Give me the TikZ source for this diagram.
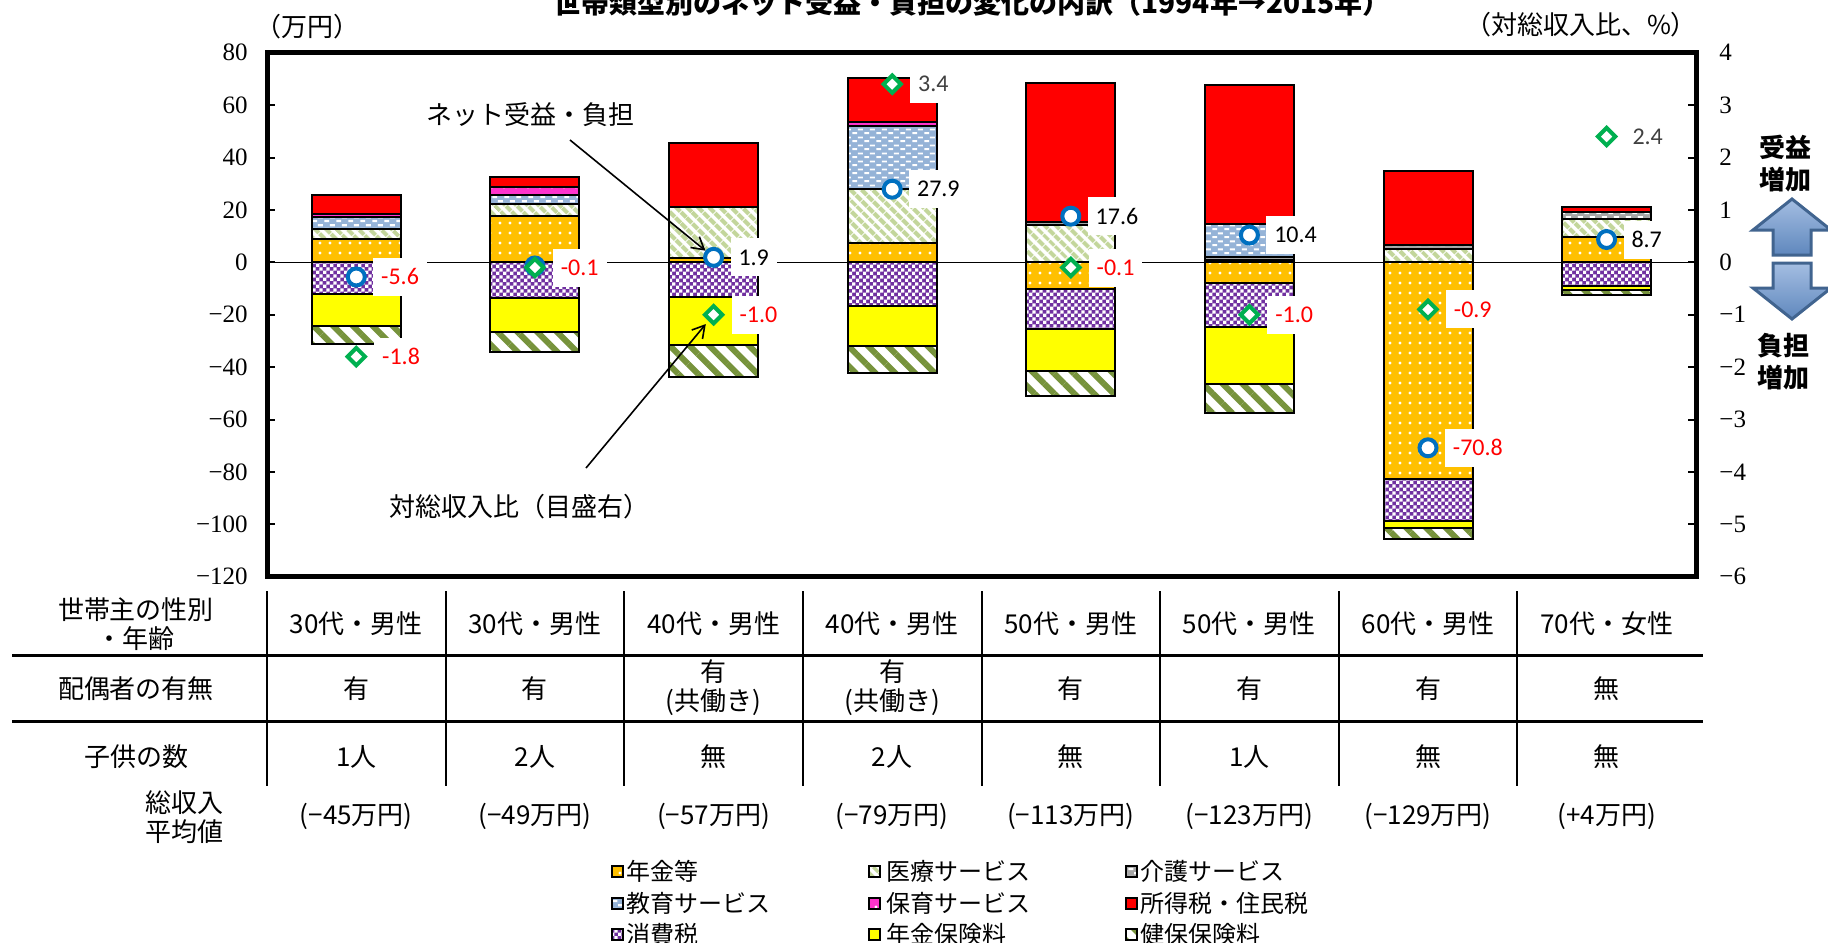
\documentclass[tikz,border=0pt]{standalone}
\usepackage{fontspec}
\setmainfont{Liberation Serif}
\newfontfamily\jpfont{Noto Sans CJK JP}
\newfontfamily\valfont{Carlito}
\usetikzlibrary{positioning,shapes.geometric,arrows.meta,patterns,patterns.meta}

\definecolor{cOrange}{HTML}{FFC000}
\definecolor{cPaleGreen}{HTML}{C3D69B}
\definecolor{cGray}{HTML}{A6A6A6}
\definecolor{cBlue}{HTML}{95B3D7}
\definecolor{cPink}{HTML}{FF33CC}
\definecolor{cRed}{HTML}{FF0000}
\definecolor{cPurple}{HTML}{7030A0}
\definecolor{cYellow}{HTML}{FFFF00}
\definecolor{cOlive}{HTML}{77933C}
\definecolor{cNetBlue}{HTML}{0070C0}
\definecolor{cRatGreen}{HTML}{00B050}
\definecolor{cDarkGray}{HTML}{404040}
\definecolor{cArrowTop}{HTML}{A4BEE2}
\definecolor{cArrowBot}{HTML}{5F87BD}
\definecolor{cArrowEdge}{HTML}{41648F}

\pgfdeclarepatternformonly{dashrow}{\pgfpointorigin}{\pgfqpoint{6pt}{4pt}}{\pgfqpoint{6pt}{4pt}}{%
  \pgfpathrectangle{\pgfqpoint{0.2pt}{0.5pt}}{\pgfqpoint{2.6pt}{1.1pt}}%
  \pgfpathrectangle{\pgfqpoint{3.2pt}{2.5pt}}{\pgfqpoint{2.6pt}{1.1pt}}%
  \pgfusepath{fill}}
\pgfdeclarepatternformonly{smallchecker}{\pgfpointorigin}{\pgfqpoint{3.6pt}{3.6pt}}{\pgfqpoint{3.6pt}{3.6pt}}{%
  \pgfpathrectangle{\pgfpointorigin}{\pgfqpoint{1.8pt}{1.8pt}}%
  \pgfpathrectangle{\pgfqpoint{1.8pt}{1.8pt}}{\pgfqpoint{1.8pt}{1.8pt}}%
  \pgfusepath{fill}}

\tikzset{
  seg/.style={draw=black, line width=1pt},
  nenkin/.style={seg, preaction={fill=cOrange}, pattern={Dots[radius=0.8pt,distance=5pt]}, pattern color=white},
  iryo/.style={seg, preaction={fill=white}, pattern={Lines[angle=-45,distance=4pt,line width=2.2pt]}, pattern color=cPaleGreen},
  kaigo/.style={seg, preaction={fill=cGray}, pattern=dashrow, pattern color=white},
  kyoiku/.style={seg, preaction={fill=cBlue}, pattern=dashrow, pattern color=white},
  hoiku/.style={seg, preaction={fill=cPink}, pattern={Dots[radius=0.8pt,distance=6pt]}, pattern color=white},
  shotoku/.style={seg, fill=cRed},
  shohi/.style={seg, preaction={fill=cPurple}, pattern=smallchecker, pattern color=white},
  hoken/.style={seg, fill=cYellow},
  kenpo/.style={seg, preaction={fill=white}, pattern={Lines[angle=-45,distance=7pt,line width=3pt]}, pattern color=cOlive},
  netmark/.style={circle, draw=cNetBlue, line width=2pt, fill=white, minimum size=8.5pt, inner sep=0pt},
  ratmark/.style={diamond, draw=cRatGreen, line width=2pt, fill=white, minimum size=9.5pt, inner sep=0pt},
  vallbl/.style={fill=white, inner xsep=4pt, inner ysep=0pt, minimum height=19pt, font=\valfont\fontsize{12pt}{14pt}\selectfont},
  ticklbl/.style={inner sep=0pt, font=\fontsize{12.5pt}{14pt}\selectfont},
  jptext/.style={font=\jpfont\fontsize{13pt}{15pt}\selectfont},
  cell/.style={align=center, font=\jpfont\fontsize{13pt}{14.5pt}\selectfont},
  legtext/.style={anchor=west, inner sep=0pt, font=\jpfont\fontsize{12pt}{14pt}\selectfont},
  titletext/.style={anchor=base, font=\jpfont\bfseries\fontsize{14pt}{16pt}\selectfont},
  sidetext/.style={align=center, font=\jpfont\bfseries\fontsize{13pt}{16pt}\selectfont},
  blockarrow/.style={draw=cArrowEdge, line width=1.5pt, top color=cArrowTop, bottom color=cArrowBot},
  callout/.style={line width=0.8pt, -{Straight Barb[length=6pt,width=7pt]}}
}

\begin{document}
\begin{tikzpicture}[x=0.5pt, y=-0.5pt]
  \useasboundingbox (0,0) rectangle (1828,943);
  \node[titletext] (title) at (972,13) {世帯類型別のネット受益・負担の変化の内訳（1994年→2015年）};
  \node[jptext] (leftunit) at (307,27) {（万円）};
  \node[jptext] (rightunit) at (1581,25) {（対総収入比、\%）};
  \begin{scope}[shift={(0,262.3)}, yscale=-2.62]
    \draw[line width=0.75pt] (267,0) -- (1696,0);
    \foreach \v/\t/\r in {80/80/4, 60/60/3, 40/40/2, 20/20/1, 0/0/0, -20/−20/−1, -40/−40/−2, -60/−60/−3, -80/−80/−4, -100/−100/−5, -120/−120/−6} {
      \draw[line width=1pt] (267,\v) -- (275,\v);
      \draw[line width=1pt] (1688,\v) -- (1696,\v);
      \node[ticklbl, anchor=east] (lt\v) at (248,\v) {\t};
      \node[ticklbl, anchor=west] (rt\v) at (1719,\v) {\r};
    }
    \draw[nenkin] (312,0) rectangle (401,8.8);
    \draw[iryo] (312,8.8) rectangle (401,12.7);
    \draw[kyoiku] (312,12.7) rectangle (401,17.4);
    \draw[hoiku] (312,17.4) rectangle (401,18.3);
    \draw[shotoku] (312,18.3) rectangle (401,25.7);
    \draw[shohi] (312,0) rectangle (401,-12.2);
    \draw[hoken] (312,-12.2) rectangle (401,-24.2);
    \draw[kenpo] (312,-24.2) rectangle (401,-31.2);
    \draw[nenkin] (490,0) rectangle (579,17.8);
    \draw[iryo] (490,17.8) rectangle (579,22.3);
    \draw[kyoiku] (490,22.3) rectangle (579,25.7);
    \draw[hoiku] (490,25.7) rectangle (579,28.9);
    \draw[shotoku] (490,28.9) rectangle (579,32.7);
    \draw[shohi] (490,0) rectangle (579,-13.7);
    \draw[hoken] (490,-13.7) rectangle (579,-26.5);
    \draw[kenpo] (490,-26.5) rectangle (579,-34.1);
    \draw[nenkin] (669,0) rectangle (758,1.5);
    \draw[iryo] (669,1.5) rectangle (758,21.2);
    \draw[shotoku] (669,21.2) rectangle (758,45.4);
    \draw[shohi] (669,0) rectangle (758,-13.4);
    \draw[hoken] (669,-13.4) rectangle (758,-31.6);
    \draw[kenpo] (669,-31.6) rectangle (758,-43.9);
    \draw[nenkin] (848,0) rectangle (937,7.3);
    \draw[iryo] (848,7.3) rectangle (937,27.9);
    \draw[kyoiku] (848,27.9) rectangle (937,52);
    \draw[hoiku] (848,52) rectangle (937,53.7);
    \draw[shotoku] (848,53.7) rectangle (937,70.2);
    \draw[shohi] (848,0) rectangle (937,-16.5);
    \draw[hoken] (848,-16.5) rectangle (937,-32);
    \draw[kenpo] (848,-32) rectangle (937,-42.4);
    \draw[iryo] (1026,0) rectangle (1115,14.2);
    \draw[kaigo] (1026,14.2) rectangle (1115,15.5);
    \draw[shotoku] (1026,15.5) rectangle (1115,68.6);
    \draw[nenkin] (1026,0) rectangle (1115,-10);
    \draw[shohi] (1026,-10) rectangle (1115,-25.6);
    \draw[hoken] (1026,-25.6) rectangle (1115,-41.5);
    \draw[kenpo] (1026,-41.5) rectangle (1115,-51);
    \draw[iryo] (1205,0) rectangle (1294,0.9);
    \draw[kaigo] (1205,0.9) rectangle (1294,2.2);
    \draw[kyoiku] (1205,2.2) rectangle (1294,14.6);
    \draw[shotoku] (1205,14.6) rectangle (1294,67.7);
    \draw[nenkin] (1205,0) rectangle (1294,-7.8);
    \draw[shohi] (1205,-7.8) rectangle (1294,-24.6);
    \draw[hoken] (1205,-24.6) rectangle (1294,-46.5);
    \draw[kenpo] (1205,-46.5) rectangle (1294,-57.4);
    \draw[iryo] (1384,0) rectangle (1473,5);
    \draw[kaigo] (1384,5) rectangle (1473,6.6);
    \draw[shotoku] (1384,6.6) rectangle (1473,35);
    \draw[nenkin] (1384,0) rectangle (1473,-82.8);
    \draw[shohi] (1384,-82.8) rectangle (1473,-98.6);
    \draw[hoken] (1384,-98.6) rectangle (1473,-101.5);
    \draw[kenpo] (1384,-101.5) rectangle (1473,-105.7);
    \draw[nenkin] (1562,0) rectangle (1651,9.8);
    \draw[iryo] (1562,9.8) rectangle (1651,16.5);
    \draw[kaigo] (1562,16.5) rectangle (1651,19.1);
    \draw[shotoku] (1562,19.1) rectangle (1651,21.2);
    \draw[shohi] (1562,0) rectangle (1651,-9);
    \draw[hoken] (1562,-9) rectangle (1651,-10.6);
    \draw[kenpo] (1562,-10.6) rectangle (1651,-12.5);
    \draw[line width=2.5pt] (267,80) rectangle (1696,-120);
    \node[netmark] (net1) at (356.3,-5.6) {};
    \node[ratmark] (rat1) at (356.3,-36) {};
    \node[netmark] (net2) at (534.9,-1.4) {};
    \node[ratmark] (rat2) at (534.9,-2) {};
    \node[netmark] (net3) at (713.6,1.9) {};
    \node[ratmark] (rat3) at (713.6,-20) {};
    \node[netmark] (net4) at (892.2,27.9) {};
    \node[ratmark] (rat4) at (892.2,68) {};
    \node[netmark] (net5) at (1070.8,17.6) {};
    \node[ratmark] (rat5) at (1070.8,-2) {};
    \node[netmark] (net6) at (1249.4,10.4) {};
    \node[ratmark] (rat6) at (1249.4,-20) {};
    \node[netmark] (net7) at (1428,-70.8) {};
    \node[ratmark] (rat7) at (1428,-18) {};
    \node[netmark] (net8) at (1606.6,8.7) {};
    \node[ratmark] (rat8) at (1606.6,48) {};
    \node[vallbl, text=cRed, right=3pt of net1] (netval1) {-5.6};
    \node[vallbl, text=cRed, right=3pt of rat1] (ratval1) {-1.8};
    \node[vallbl, text=cRed, right=3pt of rat2] (ratval2) {-0.1};
    \node[vallbl, text=black, right=3pt of net3] (netval3) {1.9};
    \node[vallbl, text=cRed, right=3pt of rat3] (ratval3) {-1.0};
    \node[vallbl, text=black, right=3pt of net4] (netval4) {27.9};
    \node[vallbl, text=cDarkGray, right=3pt of rat4] (ratval4) {3.4};
    \node[vallbl, text=black, right=3pt of net5] (netval5) {17.6};
    \node[vallbl, text=cRed, right=3pt of rat5] (ratval5) {-0.1};
    \node[vallbl, text=black, right=3pt of net6] (netval6) {10.4};
    \node[vallbl, text=cRed, right=3pt of rat6] (ratval6) {-1.0};
    \node[vallbl, text=cRed, right=3pt of net7] (netval7) {-70.8};
    \node[vallbl, text=cRed, right=3pt of rat7] (ratval7) {-0.9};
    \node[vallbl, text=black, right=3pt of net8] (netval8) {8.7};
    \node[vallbl, text=cDarkGray, right=3pt of rat8] (ratval8) {2.4};
  \end{scope}
  \node[jptext] (netLabel) at (530,115) {ネット受益・負担};
  \coordinate (netTail) at (570,140);
  \draw[callout] (netTail) -- (net3);
  \node[jptext] (ratioLabel) at (519,507) {対総収入比（目盛右）};
  \coordinate (ratioTail) at (586,468);
  \draw[callout, shorten >=2pt] (ratioTail) -- (rat3);
  \draw[blockarrow] (1792,199) -- (1831,230) -- (1811,230) -- (1811,255) -- (1773,255) -- (1773,230) -- (1753,230) -- cycle;
  \draw[blockarrow] (1773,263) -- (1811,263) -- (1811,288) -- (1831,288) -- (1792,319) -- (1753,288) -- (1773,288) -- cycle;
  \node[sidetext] (gainLbl) at (1785,164) {受益\\増加};
  \node[sidetext] (lossLbl) at (1783,362) {負担\\増加};
  \draw[line width=1.3pt] (12,655.7) -- (1703,655.7);
  \draw[line width=1.3pt] (12,721.7) -- (1703,721.7);
  \foreach \x in {267,445.6,624.3,802.9,981.5,1160.1,1338.8,1517.4}
    \draw[line width=1pt] (\x,591) -- (\x,786);
  \node[cell] (hdAge) at (136,624) {世帯主の性別\\・年齢};
  \node[cell] (hdSpouse) at (136,689) {配偶者の有無};
  \node[cell] (hdKids) at (136,757) {子供の数};
  \node[cell] (hdIncome) at (184,817) {総収入\\平均値};
  \node[cell] (age1) at (356.3,624) {30代・男性};
  \node[cell] (age2) at (534.9,624) {30代・男性};
  \node[cell] (age3) at (713.6,624) {40代・男性};
  \node[cell] (age4) at (892.2,624) {40代・男性};
  \node[cell] (age5) at (1070.8,624) {50代・男性};
  \node[cell] (age6) at (1249.4,624) {50代・男性};
  \node[cell] (age7) at (1428,624) {60代・男性};
  \node[cell] (age8) at (1606.6,624) {70代・女性};
  \node[cell] (spouse1) at (356.3,689) {有};
  \node[cell] (spouse2) at (534.9,689) {有};
  \node[cell] (spouse3) at (713.6,688) {有\\(共働き)};
  \node[cell] (spouse4) at (892.2,688) {有\\(共働き)};
  \node[cell] (spouse5) at (1070.8,689) {有};
  \node[cell] (spouse6) at (1249.4,689) {有};
  \node[cell] (spouse7) at (1428,689) {有};
  \node[cell] (spouse8) at (1606.6,689) {無};
  \node[cell] (kids1) at (356.3,757) {1人};
  \node[cell] (kids2) at (534.9,757) {2人};
  \node[cell] (kids3) at (713.6,757) {無};
  \node[cell] (kids4) at (892.2,757) {2人};
  \node[cell] (kids5) at (1070.8,757) {無};
  \node[cell] (kids6) at (1249.4,757) {1人};
  \node[cell] (kids7) at (1428,757) {無};
  \node[cell] (kids8) at (1606.6,757) {無};
  \node[cell] (income1) at (356.3,816) {(−45万円)};
  \node[cell] (income2) at (534.9,816) {(−49万円)};
  \node[cell] (income3) at (713.6,816) {(−57万円)};
  \node[cell] (income4) at (892.2,816) {(−79万円)};
  \node[cell] (income5) at (1070.8,816) {(−113万円)};
  \node[cell] (income6) at (1249.4,816) {(−123万円)};
  \node[cell] (income7) at (1428,816) {(−129万円)};
  \node[cell] (income8) at (1606.6,816) {(+4万円)};
  \draw[nenkin] (611.5,866) rectangle (622.5,877);
  \node[legtext] (legNenkin) at (626,871.5) {年金等};
  \draw[kyoiku] (611.5,897.5) rectangle (622.5,908.5);
  \node[legtext] (legKyoiku) at (626,903) {教育サービス};
  \draw[shohi] (611.5,929) rectangle (622.5,940);
  \node[legtext] (legShohi) at (626,934.5) {消費税};
  \draw[iryo] (868.5,866) rectangle (879.5,877);
  \node[legtext] (legIryo) at (886,871.5) {医療サービス};
  \draw[hoiku] (868.5,897.5) rectangle (879.5,908.5);
  \node[legtext] (legHoiku) at (886,903) {保育サービス};
  \draw[hoken] (868.5,929) rectangle (879.5,940);
  \node[legtext] (legHoken) at (886,934.5) {年金保険料};
  \draw[kaigo] (1125.5,866) rectangle (1136.5,877);
  \node[legtext] (legKaigo) at (1140,871.5) {介護サービス};
  \draw[shotoku] (1125.5,897.5) rectangle (1136.5,908.5);
  \node[legtext] (legShotoku) at (1140,903) {所得税・住民税};
  \draw[kenpo] (1125.5,929) rectangle (1136.5,940);
  \node[legtext] (legKenpo) at (1140,934.5) {健保保険料};
\end{tikzpicture}
\end{document}
